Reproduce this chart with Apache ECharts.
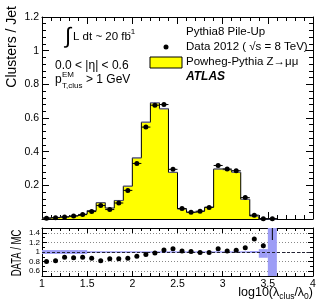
<!DOCTYPE html>
<html><head><meta charset="utf-8">
<script src="https://cdn.jsdelivr.net/npm/echarts@6/dist/echarts.min.js"></script>
<style>html,body{margin:0;padding:0;background:#fff}#c{width:329px;height:305px}</style>
</head><body><div id="c"></div>
<script>
const binCenters = [1.05,1.15,1.25,1.35,1.45,1.55,1.65,1.75,1.85,1.95,2.05,2.15,2.25,2.35,2.45,2.55,2.65,2.75,2.85,2.95,3.05,3.15,3.25,3.35,3.45,3.55];
const binWidth = 0.1;
const mcValues   = [0.006,0.010,0.014,0.020,0.030,0.050,0.097,0.065,0.110,0.195,0.363,0.575,0.690,0.655,0.277,0.060,0.040,0.047,0.070,0.297,0.292,0.278,0.117,0.018,0.002,0.001];
const mcStatErr  = [0.001,0.001,0.001,0.001,0.001,0.001,0.002,0.002,0.002,0.003,0.004,0.004,0.005,0.005,0.003,0.001,0.001,0.001,0.001,0.002,0.002,0.002,0.002,0.001,0.001,0.001];
const dataValues = [0.005,0.008,0.012,0.018,0.026,0.044,0.080,0.056,0.095,0.170,0.330,0.546,0.676,0.680,0.295,0.062,0.040,0.046,0.069,0.318,0.297,0.287,0.127,0.023,0.002,0.002];
const dataErrors = [0.001,0.001,0.001,0.001,0.001,0.001,0.002,0.002,0.002,0.003,0.004,0.005,0.005,0.005,0.003,0.001,0.001,0.001,0.002,0.003,0.003,0.003,0.002,0.001,0.001,0.001];
const ratioValues = [0.80,0.82,0.89,0.88,0.89,0.87,0.82,0.86,0.86,0.87,0.91,0.95,0.98,1.04,1.07,1.02,1.01,0.99,0.99,1.07,1.02,1.035,1.09,1.27,1.13,1.90];
const ratioErrors = [0.01,0.01,0.01,0.01,0.01,0.01,0.01,0.01,0.01,0.01,0.01,0.01,0.01,0.01,0.01,0.01,0.01,0.01,0.01,0.01,0.01,0.01,0.015,0.03,0.05,0.65];
const bandLow  = [0.96,0.96,0.96,0.96,0.96,0.985,0.985,0.985,0.985,0.985,0.985,0.985,0.985,0.985,0.985,0.985,0.985,0.985,0.985,0.985,0.985,0.985,0.985,0.98,0.88,0.0];
const bandHigh = [1.04,1.04,1.04,1.04,1.04,1.015,1.015,1.015,1.015,1.015,1.015,1.015,1.015,1.015,1.015,1.015,1.015,1.015,1.015,1.015,1.015,1.015,1.015,1.02,1.06,2.0];
const mainYTickLabels = [0.2,0.4,0.6,0.8,1,1.2];
const ratioYTickLabels = [0.6,0.8,1,1.2,1.4];
const xTickLabels = [1,1.5,2,2.5,3,3.5,4];

const FONT = "'Liberation Sans', Arial, sans-serif";
const chart = echarts.init(document.getElementById('c'), null, {renderer:'canvas'});

const stepData = binCenters.map((c,i)=>[c - binWidth/2, mcValues[i]]);
stepData.push([binCenters[binCenters.length-1] + binWidth/2, mcValues[mcValues.length-1]]);

function mkX(grid, pos, labels){
  return {
    type:'value', gridIndex:grid, position:pos, min:1, max:4, interval:0.5,
    axisLine:{show:true, onZero:false, lineStyle:{color:'#000', width:1}},
    axisTick:{show:true, inside:true, length: grid===0?7:5, lineStyle:{color:'#000'}},
    minorTick:{show:true, splitNumber:5, length: grid===0?4:3, lineStyle:{color:'#000'}},
    splitLine:{show:false},
    axisLabel:{show:labels, fontFamily:FONT, fontSize:10.5, color:'#000', margin:3,
      formatter:v=> xTickLabels.includes(+(+v).toFixed(2)) ? String(+(+v).toFixed(2)) : ''}
  };
}

const option = {
  animation:false,
  backgroundColor:'#fff',
  grid:[
    {left:42, top:17, width:271, height:202},
    {left:42, top:228, width:271, height:48}
  ],
  xAxis:[ mkX(0,'bottom',false), mkX(0,'top',false), mkX(1,'bottom',true), mkX(1,'top',false) ],
  yAxis:[
    {type:'value', gridIndex:0, position:'left', min:0, max:1.2, interval:0.2,
      axisLine:{show:true, lineStyle:{color:'#000'}},
      axisTick:{show:true, inside:true, length:7, lineStyle:{color:'#000'}},
      minorTick:{show:true, splitNumber:5, length:4, lineStyle:{color:'#000'}},
      splitLine:{show:false},
      axisLabel:{fontFamily:FONT, fontSize:10.5, color:'#000', margin:3,
        formatter:v=> mainYTickLabels.includes(+(+v).toFixed(2)) ? String(+(+v).toFixed(2)) : ''}},
    {type:'value', gridIndex:0, position:'right', min:0, max:1.2, interval:0.2,
      axisLine:{show:true, lineStyle:{color:'#000'}},
      axisTick:{show:true, inside:true, length:7, lineStyle:{color:'#000'}},
      minorTick:{show:true, splitNumber:5, length:4, lineStyle:{color:'#000'}},
      splitLine:{show:false}, axisLabel:{show:false}},
    {type:'value', gridIndex:1, position:'left', min:0.5, max:1.5, splitNumber:5,
      axisLine:{show:true, lineStyle:{color:'#000'}},
      axisTick:{show:true, inside:true, length:5, lineStyle:{color:'#000'}},
      minorTick:{show:true, splitNumber:2, length:3, lineStyle:{color:'#000'}},
      splitLine:{show:true, lineStyle:{color:'#888', type:[1,2], width:1}},
      axisLabel:{fontFamily:FONT, fontSize:8, color:'#000', margin:2,
        formatter:v=> ratioYTickLabels.includes(+(+v).toFixed(2)) ? String(+(+v).toFixed(2)) : ''}},
    {type:'value', gridIndex:1, position:'right', min:0.5, max:1.5, splitNumber:5,
      axisLine:{show:true, lineStyle:{color:'#000'}},
      axisTick:{show:true, inside:true, length:5, lineStyle:{color:'#000'}},
      minorTick:{show:true, splitNumber:2, length:3, lineStyle:{color:'#000'}},
      splitLine:{show:false}, axisLabel:{show:false}}
  ],
  series:[
    {type:'line', xAxisIndex:0, yAxisIndex:0, step:'end', data:stepData, symbol:'none',
      lineStyle:{color:'#000', width:1}, areaStyle:{color:'#ffff00', opacity:1}, z:2},
    {type:'custom', xAxisIndex:0, yAxisIndex:0, z:3,
      data: binCenters.map((c,i)=>[c, mcValues[i], mcStatErr[i]]),
      encode:{x:0, y:1},
      renderItem:(p, api)=>{
        const x=api.value(0), y=api.value(1), e=api.value(2);
        const a=api.coord([x-binWidth/2, y+e]), b=api.coord([x+binWidth/2, y-e]);
        return {type:'rect', shape:{x:a[0], y:a[1], width:b[0]-a[0], height:Math.max(1,b[1]-a[1])},
          style:{fill:'rgba(140,140,220,0.6)'}};
      }},
    {type:'custom', xAxisIndex:0, yAxisIndex:0, z:5,
      data: binCenters.map((c,i)=>[c, dataValues[i], dataErrors[i]]),
      encode:{x:0, y:1},
      renderItem:(p, api)=>{
        const x=api.value(0), y=api.value(1), e=api.value(2);
        const l=api.coord([x-binWidth/2, y]), r=api.coord([x+binWidth/2, y]);
        const t=api.coord([x, y+e]), b=api.coord([x, y-e]), c=api.coord([x,y]);
        return {type:'group', children:[
          {type:'line', shape:{x1:l[0],y1:l[1],x2:r[0],y2:r[1]}, style:{stroke:'#000', lineWidth:1}},
          {type:'line', shape:{x1:t[0],y1:t[1],x2:b[0],y2:b[1]}, style:{stroke:'#000', lineWidth:1}},
          {type:'circle', shape:{cx:c[0], cy:c[1], r:2.5}, style:{fill:'#000'}}
        ]};
      }},
    {type:'custom', xAxisIndex:2, yAxisIndex:2, z:2, clip:true,
      data: binCenters.map((c,i)=>[c, bandLow[i], bandHigh[i]]),
      encode:{x:0, y:[1,2]},
      renderItem:(p, api)=>{
        const x=api.value(0), lo=api.value(1), hi=api.value(2);
        const a=api.coord([x-binWidth/2, hi]), b=api.coord([x+binWidth/2, lo]);
        return {type:'rect', shape:{x:a[0], y:a[1], width:b[0]-a[0], height:b[1]-a[1]},
          style:{fill:'#9d9df6'}};
      },
      markLine:{silent:true, symbol:'none', label:{show:false},
        lineStyle:{color:'#223', type:[3,2], width:1}, data:[{yAxis:1}]}},
    {type:'custom', xAxisIndex:2, yAxisIndex:2, z:5, clip:true,
      data: binCenters.map((c,i)=>[c, ratioValues[i], ratioErrors[i]]),
      encode:{x:0, y:1},
      renderItem:(p, api)=>{
        const x=api.value(0), y=api.value(1), e=api.value(2);
        const t=api.coord([x, y+e]), b=api.coord([x, y-e]), c=api.coord([x,y]);
        return {type:'group', children:[
          {type:'line', shape:{x1:t[0],y1:t[1],x2:b[0],y2:b[1]}, style:{stroke:'#000', lineWidth:1}},
          {type:'circle', shape:{cx:c[0], cy:c[1], r:2.5}, style:{fill:'#000'}}
        ]};
      }}
  ],
  graphic:[
    {type:'text', x:12, y:6, rotation:Math.PI/2, style:{text:'Clusters / Jet', font:`14px ${FONT}`, fill:'#000', align:'right', verticalAlign:'middle'}},
    {type:'text', x:17, y:253, rotation:Math.PI/2, scaleX:0.68, style:{text:'DATA / MC', font:`14px ${FONT}`, fill:'#000', align:'center', verticalAlign:'middle'}},
    {type:'text', x:313, y:293, style:{text:'{a|log10(λ}{s|clus}{a|/λ}{s|0}{a|)}', align:'right', verticalAlign:'middle',
      rich:{a:{font:`12.5px ${FONT}`, fill:'#000', lineHeight:16, verticalAlign:'middle'},
            s:{font:`8.5px ${FONT}`, fill:'#000', lineHeight:16, verticalAlign:'bottom', padding:[6,0,0,0]}}}},
    {type:'text', x:68, y:37, style:{text:'∫', font:`22px ${FONT}`, fill:'#000', align:'center', verticalAlign:'middle'}},
    {type:'text', x:73, y:37, style:{text:'L dt ~ 20 fb', font:`11.5px ${FONT}`, fill:'#000', align:'left', verticalAlign:'middle'}},
    {type:'text', x:128, y:32, style:{text:'-1', font:`8px ${FONT}`, fill:'#000', align:'left', verticalAlign:'middle'}},
    {type:'text', x:55, y:66, style:{text:'0.0 < |η| < 0.6', font:`12px ${FONT}`, fill:'#000', align:'left', verticalAlign:'middle'}},
    {type:'text', x:55, y:80, style:{text:'p', font:`12px ${FONT}`, fill:'#000', align:'left', verticalAlign:'middle'}},
    {type:'text', x:62, y:75, style:{text:'EM', font:`8px ${FONT}`, fill:'#000', align:'left', verticalAlign:'middle'}},
    {type:'text', x:62, y:86, style:{text:'T,clus', font:`8px ${FONT}`, fill:'#000', align:'left', verticalAlign:'middle'}},
    {type:'text', x:86, y:80, style:{text:'> 1 GeV', font:`12px ${FONT}`, fill:'#000', align:'left', verticalAlign:'middle'}},
    {type:'text', x:186, y:32, style:{text:'Pythia8 Pile-Up', font:`11.5px ${FONT}`, fill:'#000', align:'left', verticalAlign:'middle'}},
    {type:'circle', shape:{cx:166, cy:47, r:2.5}, style:{fill:'#000'}},
    {type:'text', x:186, y:47, style:{text:'Data 2012 ( √s = 8 TeV)', font:`11.5px ${FONT}`, fill:'#000', align:'left', verticalAlign:'middle'}},
    {type:'rect', shape:{x:150, y:57, width:32, height:11}, style:{fill:'#ffff00', stroke:'#000', lineWidth:1}},
    {type:'text', x:186, y:62, style:{text:'Powheg-Pythia Z→μμ', font:`11.5px ${FONT}`, fill:'#000', align:'left', verticalAlign:'middle'}},
    {type:'text', x:186, y:77, style:{text:'ATLAS', font:`italic bold 12px ${FONT}`, fill:'#000', align:'left', verticalAlign:'middle'}}
  ]
};
chart.setOption(option);
</script></body></html>
